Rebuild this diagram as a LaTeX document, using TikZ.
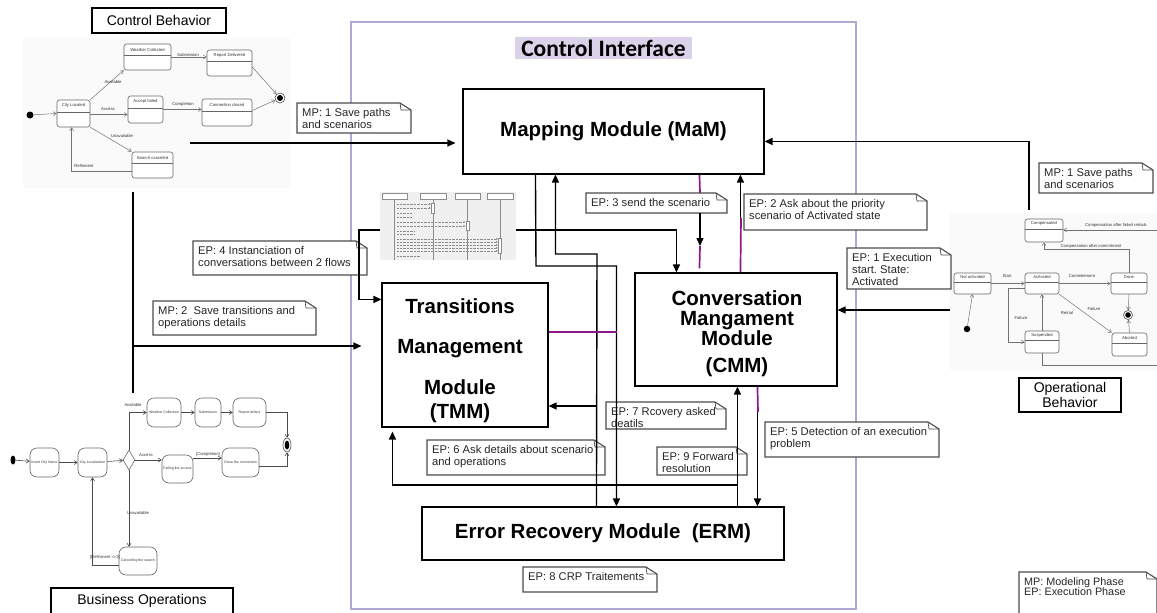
\documentclass[tikz,border=0pt]{standalone}
\usepackage{fontspec}
\setmainfont{Liberation Sans}
\newfontfamily\calib{Carlito}
\usetikzlibrary{arrows.meta,calc,shapes.geometric}
\frenchspacing
\definecolor{purp}{RGB}{140,25,140}
\definecolor{lav}{RGB}{178,166,212}
\definecolor{lavfill}{RGB}{218,210,233}
\tikzset{
 modbox/.style={draw, line width=1.1pt, fill=white, inner sep=0pt},
 modtext/.style={font=\fontsize{20.5}{24}\selectfont\bfseries, align=center, inner sep=0pt},
 conn/.style={line width=1.4pt, -{Triangle[length=8pt,width=7pt]}},
 plain/.style={line width=1.4pt},
 purpline/.style={line width=1.7pt, draw=purp},
 notedraw/.style={line width=1.1pt, draw=black!70},
 notetext/.style={anchor=north west, inner sep=0pt, font=\fontsize{11.2}{12.2}\selectfont, align=left, text=black!85},
 lblbox/.style={draw, line width=1.2pt, font=\fontsize{14}{14.5}\selectfont, inner sep=0pt, align=center, fill=white},
 st/.style={draw=black!60, line width=0.6pt, rounded corners=2.5pt, fill=white, inner sep=0pt},
 tinyt/.style={font=\fontsize{4.2}{4.5}\selectfont, inner sep=0.5pt, text=black!80},
 sarr/.style={draw=black!55, line width=0.5pt, -{Straight Barb[length=3pt,width=4pt]}},
 act/.style={draw=black!60, line width=0.6pt, rounded corners=7pt, fill=white, inner sep=0pt, font=\fontsize{3.5}{4}\selectfont, text=black!80},
 aarr/.style={draw=black!70, line width=0.6pt, -{Straight Barb[length=3pt,width=4pt]}},
}
% note with folded corner
\newcommand\mynote[7][]{%
 \fill[white] (#3,#4) rectangle (#5,#6);
 \draw[notedraw] (#3,#4) -- ({#5-11},#4) -- (#5,{#4+7}) -- (#5,#6) -- (#3,#6) -- cycle;
 \draw[notedraw, line width=0.7pt] ({#5-11},#4) -- ({#5-10},{#4+7}) -- (#5,{#4+7});
 \node[notetext,#1] (#2) at ({#3+5},{#4+5}) {#7};
}
% state with name compartment
\newcommand\cstate[6]{%
 \node[st, minimum width=#4pt, minimum height=#5pt] (#1) at (#2,#3) {};
 \draw[black!60, line width=0.5pt] ($(#1.north west)+(0,{0.45*#5})$) -- ($(#1.north east)+(0,{0.45*#5})$);
 \node[tinyt] at ($(#1.north)+(0,{0.225*#5})$) {#6};
}
\newcommand\astate[6]{%
 \node[act, minimum width=#4pt, minimum height=#5pt, align=center] (#1) at (#2,#3) {#6};
}
\begin{document}
\begin{tikzpicture}[x=1pt,y=-1pt]
\path[use as bounding box] (0,0) rectangle (1157,613);
\clip (0,0) rectangle (1157,613);
\fill[white] (0,0) rectangle (1157,613);

% ---------- Control Behavior (state machine) ----------
\fill[gray!4] (23,38) rectangle (290,188);
\node[lblbox, minimum width=134pt, minimum height=25pt] (cbLbl) at (159,20.5) {Control Behavior};
\node[circle, fill=black, minimum size=7pt, inner sep=0pt] (cbInit) at (30,115) {};
\node[circle, draw=black!70, line width=0.6pt, minimum size=10pt, inner sep=0pt, fill=white] (cbFin) at (280,98) {};
\fill (cbFin.center) circle (3pt);
\cstate{CL}{73.5}{113.5}{33}{27}{City Located}
\cstate{WC}{147.5}{57}{47}{26}{Weather Collected}
\cstate{RD}{229.5}{63}{45}{26}{Report Delivered}
\cstate{AF}{145.5}{109.5}{35}{27}{Accept failed}
\cstate{CC}{227}{112.5}{50}{27}{Connection closed}
\cstate{SC}{152.5}{165}{41}{26}{Search canceled}
\draw[sarr] (cbInit) -- (CL.west);
\draw[sarr] (CL.north east) -- (WC.south west);
\node[tinyt] (tAv) at (113,82) {Available};
\draw[sarr] ($(CL.east)+(0,1)$) -- ($(CL.east -| AF.west)+(0,1)$);
\node[tinyt] (tAc) at (108,109) {Access};
\draw[sarr] (CL.south east) -- (SC.north west);
\node[tinyt] (tUn) at (122,136) {Unavailable};
\draw[sarr] (WC.east) -- (WC.east -| RD.west);
\node[tinyt] (tSu) at (188,54.5) {Submission};
\draw[sarr] (AF.east) -- (AF.east -| CC.west);
\node[tinyt] (tCo) at (183,104) {Completion};
\draw[sarr] ($(RD.east)+(0,4)$) -- (cbFin);
\draw[sarr] ($(CC.east)+(0,-2)$) -- (cbFin);
\draw[sarr] ($(SC.west)+(0,6)$) -| ($(CL.south west)+(15,0)$);
\node[tinyt] (tRe) at (84,166) {Refinment};

% ---------- Business Operations (activity) ----------
\node[ellipse, fill=black, minimum width=5pt, minimum height=9pt, inner sep=0pt] (boInit) at (13,460) {};
\astate{IC}{44.5}{462.5}{29}{29}{Insert City Name}
\astate{CLo}{92.5}{462.5}{29}{29}{City Localisation}
\node[diamond, draw=black!60, line width=0.6pt, minimum width=12pt, minimum height=20pt, inner sep=0pt, fill=white] (dia) at (129,460) {};
\astate{WCo}{164}{412.5}{34}{29}{Weather Collection}
\astate{Sub}{208}{412.5}{26}{29}{Submission}
\astate{Rep}{249.5}{412.5}{33}{29}{Report delivry}
\astate{Fail}{177.5}{469}{31}{28}{Failing the access}
\astate{Close}{240.5}{462.5}{37}{29}{Close the connection}
\astate{Canc}{138}{561}{38}{28}{Cancelling the search}
\node[ellipse, draw=black!70, line width=0.6pt, minimum width=8pt, minimum height=14pt, inner sep=0pt, fill=white] (boFin) at (287,445) {};
\fill (boFin.center) ellipse (2.3pt and 4.5pt);
\draw[aarr] (boInit) -- (IC);
\draw[aarr] (IC) -- (CLo);
\draw[aarr] (CLo) -- (dia);
\draw[aarr] (dia.north) |- (WCo.west);
\node[tinyt] (bAv) at (133,405) {Available};
\draw[aarr] (WCo) -- (Sub);
\draw[aarr] (Sub) -- (Rep);
\draw[aarr] (Rep.east) -| (boFin.north);
\draw[aarr] (dia.east) -- (dia.east -| Fail.west);
\node[tinyt] (bAc) at (146,455) {Access};
\draw[aarr] ($(Fail.east)+(0,-11)$) -- ($(Fail.east -| Close.west)+(0,-11)$);
\node[tinyt] (bCo) at (208,454.5) {[Completion]};
\draw[aarr] ($(Close.east)+(0,4)$) -| (boFin.south);
\draw[aarr] (dia.south) -- (dia.south |- Canc.north);
\node[tinyt] (bUn) at (138,513) {Unavailable};
\draw[aarr] ($(Canc.west)+(0,4)$) -| (CLo.south);
\node[tinyt] (bRe) at (105,557) {[Refinment <=3]};
\node[lblbox, minimum width=182pt, minimum height=26pt] (boLbl) at (142,601) {Business Operations};

% ---------- Operational Behavior ----------
\fill[gray!4] (950,213) rectangle (1157,370);
\cstate{NA}{972.5}{283.5}{37}{21}{Not activated}
\cstate{Act}{1042}{283.5}{34}{21}{Activated}
\cstate{Done}{1129}{283.5}{36}{21}{Done}
\cstate{Comp}{1044}{230.5}{38}{23}{Compensated}
\cstate{Susp}{1042}{342}{34}{22}{Suspended}
\cstate{Abort}{1129.5}{344.5}{35}{23}{Aborted}
\node[circle, fill=black, minimum size=6.5pt, inner sep=0pt] (obInit) at (967,329) {};
\node[circle, draw=black!70, line width=0.6pt, minimum size=9pt, inner sep=0pt, fill=white] (obFin) at (1128,315) {};
\fill (obFin.center) circle (2.8pt);
\draw[sarr] (obInit) -- (NA.south);
\draw[sarr] (NA.east) -- (Act.west);
\node[tinyt] (oSt) at (1007,276) {Start};
\draw[sarr] (Act.east) -- (Done.west);
\node[tinyt] (oCm) at (1082,276) {Commitement};
\draw[sarr] (Done.north) -- ++(0,-23) -| (Comp.south);
\node[tinyt] (oCa) at (1091,246) {Compensation after commitment};
\coordinate (compR) at (1160,230);
\draw[sarr] (compR) -- (Comp.east |- compR);
\node[tinyt] (oCf) at (1116,225.5) {Compensation after failed retrials};
\draw[sarr] (Act.south east) -- (Abort.north west);
\node[tinyt] (oFa) at (1094,309) {Failure};
\draw[sarr] (Done.south) -- (obFin);
\draw[sarr] (Abort.north) -- (obFin);
\draw[sarr] ($(Act.west)+(0,4.5)$) -- ++(-16,0) |- (Susp.west);
\node[tinyt] (oFb) at (1021,318) {Failure};
\draw[sarr] (Susp.north) -- (Act.south);
\node[tinyt] (oRt) at (1067,313) {Retrial};
\coordinate (suspR) at (1160,365);
\draw[black!55, line width=0.5pt] (Susp.south) |- (suspR);
\node[lblbox, minimum width=102pt, minimum height=34pt] (obLbl) at (1070,395) {Operational\\Behavior};

% ---------- Control Interface frame ----------
\draw[lav, line width=1.6pt] (351,22) rectangle (856,609);
\node[fill=lavfill, minimum width=177pt, minimum height=22pt, inner sep=0pt, font={\calib\fontsize{23.5}{23.5}\selectfont\bfseries}] (title) at (603.5,48) {Control Interface};

% ---------- modules ----------
\node[modbox, minimum width=301pt, minimum height=85pt, font=\fontsize{20.5}{24}\selectfont\bfseries] (MaM) at (613.5,131.5) {Mapping Module (MaM)};
\node[modbox, minimum width=166pt, minimum height=144pt] (TMM) at (465,355) {};
\node[modtext] (TMMt) at (460,361) {Transitions\\[16pt]Management\\[17pt]Module\\(TMM)};
\node[modbox, minimum width=202pt, minimum height=113pt] (CMM) at (736,329.5) {};
\node[modtext, font=\fontsize{20.5}{20}\selectfont\bfseries] (CMMt) at (737,334) {Conversation\\Mangament\\Module\\[7pt](CMM)};
\node[modbox, minimum width=362pt, minimum height=53pt, font=\fontsize{20.5}{24}\selectfont\bfseries] (ERM) at (603,533.5) {Error Recovery Module~ (ERM)};

% ---------- sequence diagram thumbnail ----------
\node[fill=gray!12, minimum width=136pt, minimum height=68pt, inner sep=0pt] (seq) at (448,226) {};
\begin{scope}[black!45, line width=0.4pt]
 \draw[fill=white] (382,193) rectangle (407,199);
 \draw[fill=white] (420,193) rectangle (446,199);
 \draw[fill=white] (455,193) rectangle (480,199);
 \draw[fill=white] (487,193) rectangle (513,199);
 \foreach \lx in {394.5,433,467.5,500} \draw (\lx,199) -- (\lx,260);
 \foreach \my in {204,208} \draw[densely dotted, -{Latex[length=2pt,width=2pt]}] (397,\my) -- (431,\my);
 \foreach \my in {213,217} \draw[densely dotted] (397,\my) -- (412,\my);
 \foreach \my in {222,226} \draw[densely dotted, -{Latex[length=2pt,width=2pt]}] (397,\my) -- (465.5,\my);
 \foreach \my in {231,234} \draw[densely dotted] (397,\my) -- (415,\my);
 \foreach \my in {239,242,245,248,251} \draw[densely dotted, -{Latex[length=2pt,width=2pt]}] (397,\my) -- (498,\my);
 \draw[fill=white] (431.5,203) rectangle (434.5,213);
 \draw[fill=white] (466,221) rectangle (469,230);
 \draw[fill=white] (498.5,238) rectangle (501.5,253);
 \draw[densely dotted] (397,256) -- (420,256);
\end{scope}

% ---------- notes ----------
\mynote{n1}{297}{103}{411}{133}{MP: 1 Save paths\\and scenarios}
\mynote{n2}{153}{301}{316}{335}{MP: 2~ Save transitions and\\operations details}
\mynote{n4}{193}{241}{367}{275}{EP: 4 Instanciation of\\conversations between 2 flows}
\mynote{n3}{586}{193}{727}{213}{EP: 3 send the scenario}
\mynote{n5}{744}{194}{927}{230}{EP: 2 Ask about the priority\\scenario of Activated state}
\mynote{n6}{1039}{163}{1153}{193}{MP: 1 Save paths\\and scenarios}
\mynote{n7}{847}{248}{951}{289}{EP: 1 Execution\\start. State:\\Activated}
\mynote{n8}{606}{402}{726}{429}{EP: 7 Rcovery asked\\deatils}
\mynote{n9}{427}{440}{605}{475}{EP: 6 Ask details about scenario\\and operations}
\mynote{n10}{657}{447}{747}{475}{EP: 9 Forward\\resolution}
\mynote{n11}{765}{422}{939}{457}{EP: 5 Detection of an execution\\problem}
\mynote{n12}{523}{567}{657}{592}{EP: 8 CRP Traitements}
\mynote[font=\fontsize{10.8}{10.8}\selectfont]{n13}{1019}{572}{1157}{620}{MP: Modeling Phase\\EP: Execution Phase}

% ---------- connectors ----------
% MP 1 from Control Behavior
\coordinate (cbOut) at (190,143);
\coordinate (cbThick) at (295,143);
\draw[line width=2.6pt] (cbOut) -- (cbThick);
\draw[conn, shorten >=7pt] (cbOut) -- (cbOut -| MaM.west);
% MP 2
\coordinate (vTop) at (133,192);
\coordinate (vBot) at (133,393);
\coordinate (vBr) at (133,346);
\draw[plain, line width=1.7pt] (vTop) -- (vBot);
\draw[conn, shorten >=20pt] (vBr) -- (vBr -| TMM.west);
% EP 4
\draw[conn] ($(seq.west)+(0,4)$) -- ++(-21,0) |- ($(TMM.north west)+(0,17)$);
\draw[conn] ($(seq.east)+(0,4)$) -| ($(CMM.north west)+(42,0)$);
% EP 3
\coordinate (e3a) at ($(MaM.south west)+(237,0)$);
\coordinate (e3b) at (700,193);
\coordinate (e3c) at (700,213);
\coordinate (e3d) at (700,246);
\coordinate (e3e) at ($(CMM.north west)+(65,-4)$);
\draw[purpline] (e3a) -- (e3b);
\draw[conn] (e3c) -- (e3d);
\draw[purpline] (e3d) -- (e3e);
% EP 2
\coordinate (e2a) at ($(CMM.north west)+(106,0)$);
\coordinate (e2b) at (741,218);
\draw[conn] (e2a) -- (e2a |- MaM.south);
\draw[purpline] (e2a) -- (e2b);
% ERM -> MaM and TMM
\coordinate (aBot) at ($(ERM.north west)+(175,0)$);
\coordinate (aTurn) at (597,254);
\coordinate (aBr) at (597,406);
\draw[conn] (aBot) -- (aTurn) -| ($(MaM.south west)+(93,0)$);
\draw[conn] (aBr) -- (aBr -| TMM.east);
% MaM -> ERM
\coordinate (bTop) at ($(MaM.south west)+(73,0)$);
\coordinate (bTurn) at (536,266);
\draw[conn] (bTop) -- (bTurn) -| ($(ERM.north west)+(195,0)$);
% purple link from TMM
\coordinate (pE) at (617,332);
\draw[purpline] (pE -| TMM.east) -- (pE);
% ERM -> CMM and TMM
\coordinate (cBot) at ($(ERM.north west)+(316,0)$);
\coordinate (cBr) at (738,485);
\draw[conn] (cBot) -- (cBot |- CMM.south);
\draw[conn, shorten >=4pt] (cBr) -| ($(TMM.south west)+(11,0)$);
% CMM -> ERM
\coordinate (dTop) at ($(CMM.south west)+(123,0)$);
\coordinate (dP) at (758,412);
\draw[conn] (dTop) -- (dTop |- ERM.north);
\draw[purpline] (dTop) -- (dP);
% MP 1 from Operational Behavior
\coordinate (opUp) at (1029,210);
\draw[conn] (opUp) |- ($(MaM.north east)+(0,53)$);
% EP 1
\coordinate (opIn) at (950,310);
\draw[conn] (opIn) -- (opIn -| CMM.east);
\end{tikzpicture}
\end{document}
